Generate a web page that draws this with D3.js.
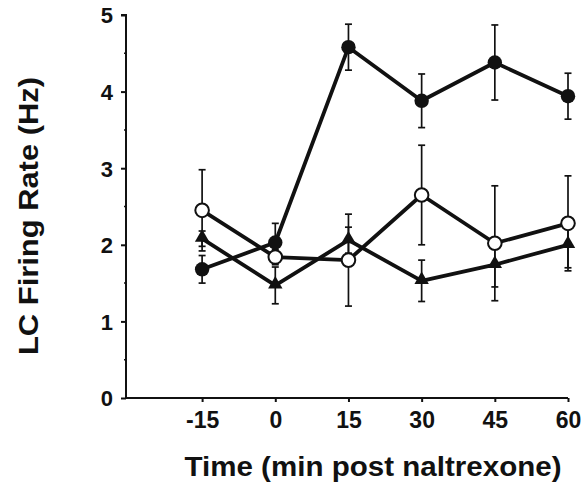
<!DOCTYPE html>
<html>
<head>
<meta charset="utf-8">
<script src="https://cdn.jsdelivr.net/npm/d3@7"></script>
<style>
  body { margin: 0; background: #fff; }
  text { font-family: "Liberation Sans", Arial, sans-serif; font-weight: bold; fill: #111; }
</style>
</head>
<body>
<div id="chart"></div>
<script>
// time points (min post naltrexone)
var times = [-15, 0, 15, 30, 45, 60];
var xTicks = [-15, 0, 15, 30, 45, 60];
var yTicks = [0, 1, 2, 3, 4, 5];
var yMinor = [0.5, 1.5, 2.5, 3.5, 4.5];

// series: filled circles, open circles, filled triangles
var filledMean = [1.68, 2.03, 4.58, 3.88, 4.38, 3.94];
var filledErr  = [0.18, 0.25, 0.30, 0.35, 0.49, 0.30];
var openMean   = [2.45, 1.84, 1.80, 2.65, 2.02, 2.28];
var openErr    = [0.53, 0.10, 0.60, 0.65, 0.75, 0.62];
var triMean    = [2.08, 1.47, 2.06, 1.53, 1.74, 2.00];
var triErr     = [0.10, 0.24, 0.17, 0.27, 0.29, 0.30];

var series = [
  { name: 'open', mean: openMean, err: openErr },
  { name: 'tri', mean: triMean, err: triErr },
  { name: 'filled', mean: filledMean, err: filledErr }
];

var W = 583, H = 483;
var svg = d3.select('#chart').append('svg')
  .attr('width', W)
  .attr('height', H);

var x = d3.scaleLinear().domain([-30.6, 60]).range([126, 568]);
var y = d3.scaleLinear().domain([0, 5]).range([398, 15]);

// y axis
var yAxis = svg.append('g').attr('transform', 'translate(126,0)')
  .call(d3.axisLeft(y).tickValues(yTicks).tickSize(5).tickPadding(8).tickFormat(d3.format('d')));
yAxis.select('.domain').attr('stroke', '#111').attr('stroke-width', 2).attr('d', 'M-5,15H0V398');
yAxis.selectAll('.tick line').attr('stroke', '#111').attr('stroke-width', 2);
yAxis.selectAll('.tick text').attr('font-size', 22).attr('dy', '0.36em');
yAxis.selectAll('.minor').data(yMinor).enter().append('line')
  .attr('x1', -2).attr('x2', 0)
  .attr('y1', function(d){ return y(d); }).attr('y2', function(d){ return y(d); })
  .attr('stroke', '#111').attr('stroke-width', 1.5);

// x axis (hyphen minus like the original)
var xAxis = svg.append('g').attr('transform', 'translate(0,398)')
  .call(d3.axisBottom(x).tickValues(xTicks).tickSize(4).tickPadding(10)
    .tickFormat(function(d){ return String(d); }));
xAxis.select('.domain').attr('stroke', '#111').attr('stroke-width', 2).attr('d', 'M126,0H568');
xAxis.selectAll('.tick line').attr('stroke', '#111').attr('stroke-width', 2);
xAxis.selectAll('.tick text').attr('font-size', 23);
svg.selectAll('.domain').attr('fill', 'none');

// axis titles
svg.append('text')
  .attr('transform', 'translate(38,216) rotate(-90)')
  .attr('text-anchor', 'middle')
  .attr('font-size', 27)
  .attr('textLength', 278)
  .attr('lengthAdjust', 'spacingAndGlyphs')
  .text('LC Firing Rate (Hz)');
svg.append('text')
  .attr('x', 373).attr('y', 476)
  .attr('text-anchor', 'middle')
  .attr('font-size', 27)
  .attr('textLength', 377)
  .attr('lengthAdjust', 'spacingAndGlyphs')
  .text('Time (min post naltrexone)');

var line = d3.line()
  .x(function(d, i){ return x(times[i]); })
  .y(function(d){ return y(d); });

// error bars
series.forEach(function(s){
  var g = svg.append('g');
  s.mean.forEach(function(m, i){
    var cx = x(times[i]);
    var top = y(m + s.err[i]), bot = y(m - s.err[i]);
    g.append('line').attr('x1', cx).attr('x2', cx).attr('y1', top).attr('y2', bot)
      .attr('stroke', '#111').attr('stroke-width', 1.7);
    [top, bot].forEach(function(yy){
      g.append('line').attr('x1', cx - 3.5).attr('x2', cx + 3.5).attr('y1', yy).attr('y2', yy)
        .attr('stroke', '#111').attr('stroke-width', 1.7);
    });
  });
});

// lines
series.forEach(function(s){
  svg.append('path').datum(s.mean)
    .attr('d', line)
    .attr('fill', 'none')
    .attr('stroke', '#111')
    .attr('stroke-width', 3.8)
    .attr('stroke-linejoin', 'round');
});

// markers
series.forEach(function(s){
  var g = svg.append('g');
  s.mean.forEach(function(m, i){
    var cx = x(times[i]), cy = y(m);
    if (s.name === 'tri') {
      g.append('path')
        .attr('d', d3.symbol().type(d3.symbolTriangle).size(90)())
        .attr('transform', 'translate(' + cx + ',' + (cy - 1) + ')')
        .attr('fill', '#111');
    } else if (s.name === 'open') {
      g.append('circle').attr('cx', cx).attr('cy', cy).attr('r', 6.8)
        .attr('fill', '#fff').attr('stroke', '#111').attr('stroke-width', 2);
    } else {
      g.append('circle').attr('cx', cx).attr('cy', cy).attr('r', 7.2)
        .attr('fill', '#111');
    }
  });
});
</script>
</body>
</html>
